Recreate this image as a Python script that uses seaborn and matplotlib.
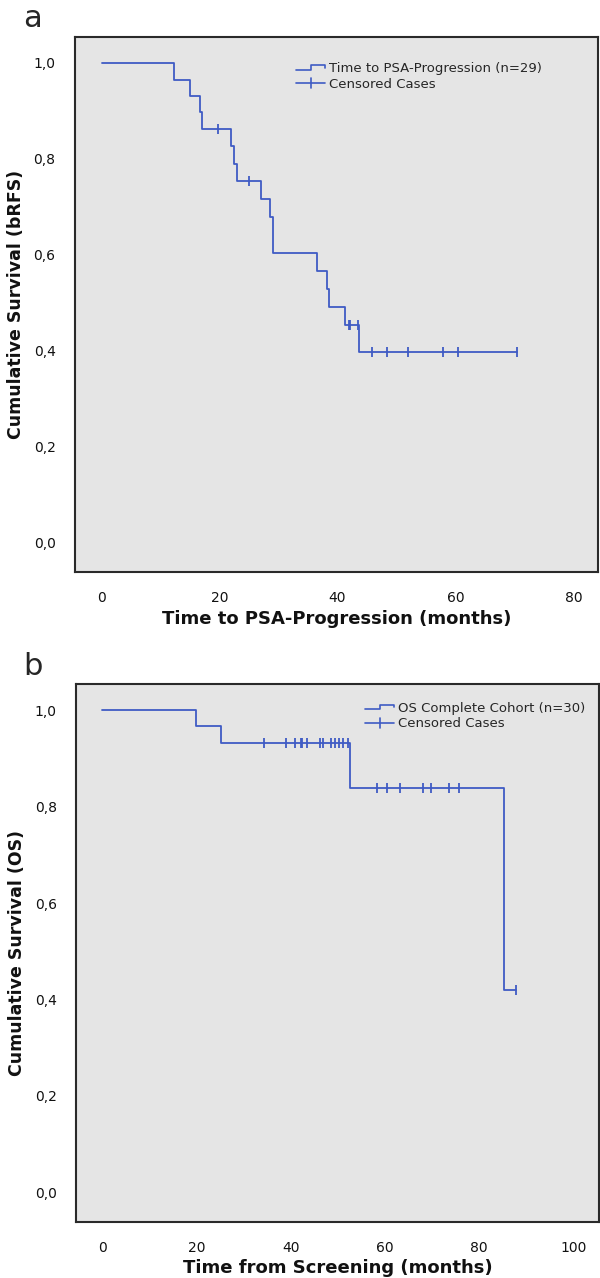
import numpy as np
import pandas as pd
import matplotlib
matplotlib.use('Agg')
import matplotlib.pyplot as plt
from matplotlib.lines import Line2D
from matplotlib.legend_handler import HandlerBase
from matplotlib.ticker import FuncFormatter
import seaborn as sns

# panel a: time to PSA progression
a_event_times = [12.3, 15.0, 16.7, 17.1, 22.0, 22.5, 22.9, 27.1, 28.6, 29.1, 36.6, 38.2, 38.6, 41.2, 43.6]
a_surv = [0.965, 0.931, 0.897, 0.862, 0.826, 0.790, 0.754, 0.717, 0.679, 0.604, 0.566, 0.528, 0.491, 0.453, 0.397]
a_censor_times = [19.7, 25.0, 42.0, 42.2, 43.5, 45.9, 48.4, 52.0, 57.9, 60.4, 70.4]

# panel b: overall survival
b_event_times = [19.9, 25.2, 52.6, 85.3]
b_surv = [0.967, 0.933, 0.840, 0.420]
b_censor_times = [34.3, 39.1, 40.9, 42.1, 42.4, 43.5, 46.2, 46.8, 48.6, 49.3, 50.3, 51.2, 52.2,
                  58.4, 60.4, 63.2, 68.0, 69.8, 73.6, 75.7, 87.9]

BLUE = '#3f5bc4'
BG = '#e5e5e5'


class StepHandler(HandlerBase):
    def create_artists(self, legend, orig_handle, xd, yd, width, height, fontsize, trans):
        x0 = -xd
        xs = [x0, x0 + width * 0.5, x0 + width * 0.5, x0 + width, x0 + width]
        ys = [height * 0.25 - yd, height * 0.25 - yd, height * 0.75 - yd, height * 0.75 - yd, height * 0.45 - yd]
        ln = Line2D(xs, ys, color=BLUE, lw=1.2)
        ln.set_transform(trans)
        return [ln]


class CensorHandler(HandlerBase):
    def create_artists(self, legend, orig_handle, xd, yd, width, height, fontsize, trans):
        x0 = -xd
        yc = height * 0.5 - yd
        ln = Line2D([x0, x0 + width], [yc, yc], color=BLUE, lw=1.2)
        tk = Line2D([x0 + width * 0.5] * 2, [yc - height * 0.55, yc + height * 0.55], color=BLUE, lw=1.2)
        ln.set_transform(trans)
        tk.set_transform(trans)
        return [ln, tk]


def km_panel(ax, ev_t, surv, cens_t, xlim, xticks, xlabel, ylabel, label, leg_anchor):
    steps = pd.DataFrame({'t': [0.0] + ev_t + [max(cens_t)],
                          's': [1.0] + surv + [surv[-1]]})
    sns.lineplot(data=steps, x='t', y='s', ax=ax, drawstyle='steps-post', color=BLUE, lw=1.3,
                 estimator=None, sort=False)
    idx = np.searchsorted(steps['t'].values, cens_t, side='right') - 1
    cens = pd.DataFrame({'t': cens_t, 's': steps['s'].values[idx]})
    sns.scatterplot(data=cens, x='t', y='s', ax=ax, marker='|', s=60, color=BLUE, linewidth=1.3)
    ax.set_facecolor(BG)
    ax.set_xlim(*xlim)
    ax.set_ylim(-0.061, 1.054)
    ax.set_xticks(xticks)
    ax.set_yticks([0, 0.2, 0.4, 0.6, 0.8, 1.0])
    ax.yaxis.set_major_formatter(FuncFormatter(lambda v, p: f'{v:.1f}'.replace('.', ',')))
    ax.tick_params(axis='both', direction='out', length=8, width=1.3, color='black',
                   labelsize=10, pad=6, labelcolor='#111111')
    for sp in ax.spines.values():
        sp.set_visible(True)
        sp.set_color('#2a2a2a')
        sp.set_linewidth(1.5)
    ax.set_xlabel(xlabel, fontsize=13, fontweight='bold', labelpad=3, color='#111111')
    ax.set_ylabel(ylabel, fontsize=12.5, fontweight='bold', labelpad=6, color='#111111')
    h1 = Line2D([], [])
    h2 = Line2D([], [])
    ax.legend([h1, h2], [label, 'Censored Cases'],
              handler_map={h1: StepHandler(), h2: CensorHandler()},
              loc='upper left', bbox_to_anchor=leg_anchor, frameon=False,
              fontsize=9.5, handlelength=2.2, handletextpad=0.3, labelspacing=0.2)


sns.set_style('white')
fig = plt.figure(figsize=(6, 12.78), dpi=100)
ax1 = fig.add_axes([0.125, 0.5524, 0.872, 0.4186])
ax2 = fig.add_axes([0.127, 0.0440, 0.872, 0.4205])

km_panel(ax1, a_event_times, a_surv, a_censor_times, (-4.5, 84.2), [0, 20, 40, 60, 80],
         'Time to PSA-Progression (months)', 'Cumulative Survival (bRFS)',
         'Time to PSA-Progression (n=29)', (0.40, 0.975))
km_panel(ax2, b_event_times, b_surv, b_censor_times, (-5.5, 105.5), [0, 20, 40, 60, 80, 100],
         'Time from Screening (months)', 'Cumulative Survival (OS)',
         'OS Complete Cohort (n=30)', (0.53, 0.99))

fig.text(0.038, 0.997, 'a', fontsize=22, va='top', ha='left')
fig.text(0.038, 0.4895, 'b', fontsize=22, va='top', ha='left')

fig.savefig('out.png', dpi=100)
